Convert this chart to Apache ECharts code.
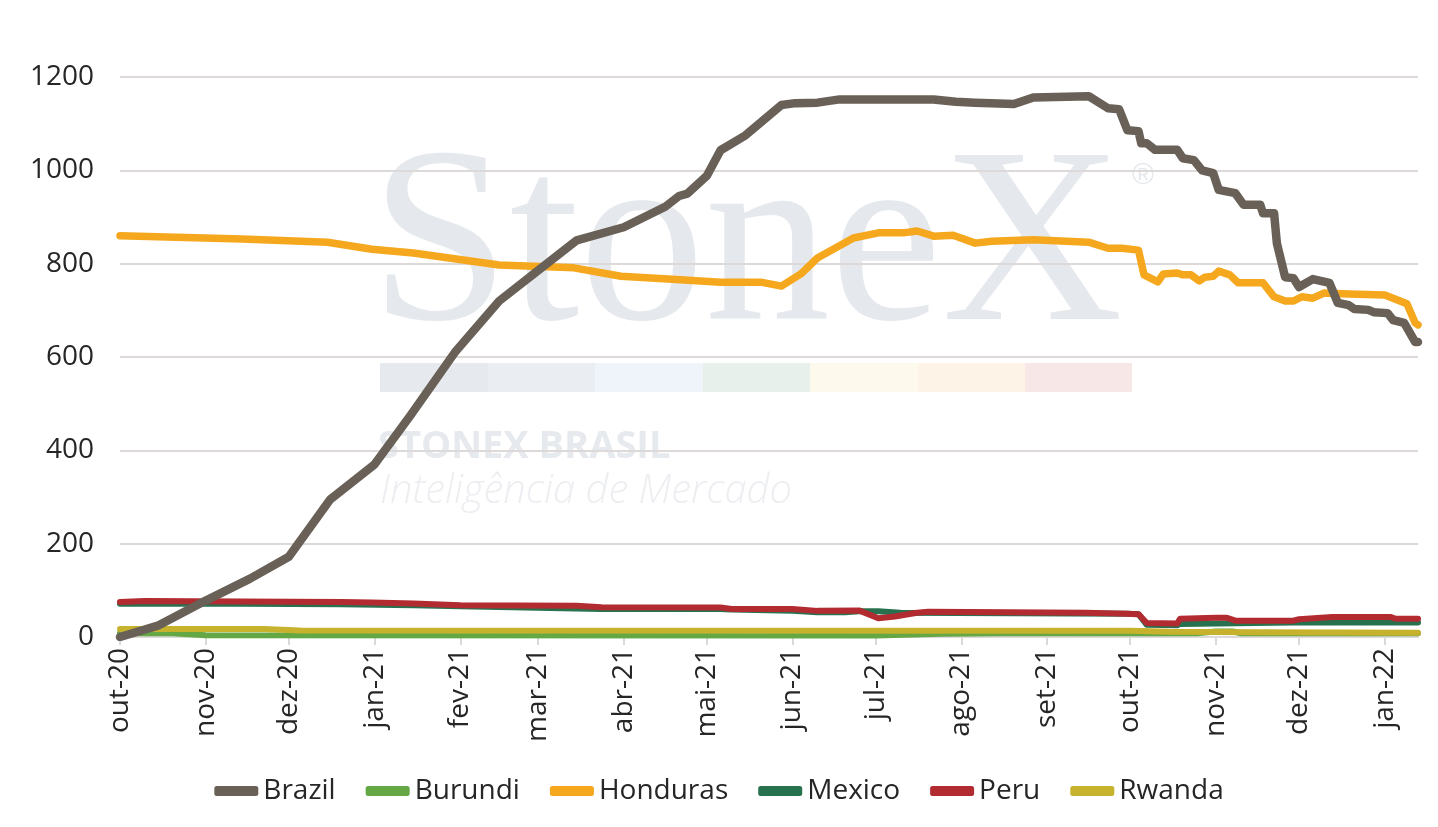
<!DOCTYPE html>
<html>
<head>
<meta charset="utf-8">
<script src="https://cdn.jsdelivr.net/npm/echarts@6/dist/echarts.min.js"></script>
<style>
  html, body { margin: 0; padding: 0; background: #fff; }
  #chart { width: 1438px; height: 827px; }
</style>
</head>
<body>
<div id="chart"></div>
<script>
// rótulos dos meses (eixo x)
var monthNames = ['jan', 'fev', 'mar', 'abr', 'mai', 'jun', 'jul', 'ago', 'set', 'out', 'nov', 'dez'];
var tickMonths = ['2020-10-01', '2020-11-01', '2020-12-01', '2021-01-01', '2021-02-01', '2021-03-01', '2021-04-01', '2021-05-01',
  '2021-06-01', '2021-07-01', '2021-08-01', '2021-09-01', '2021-10-01', '2021-11-01', '2021-12-01', '2022-01-01'];
var yTicks = [0, 200, 400, 600, 800, 1000, 1200];
var startDate = '2020-10-01', endDate = '2022-01-13';

var seriesNames = ['Brazil', 'Burundi', 'Honduras', 'Mexico', 'Peru', 'Rwanda'];

var brazil = [
  ['2020-10-01', 0], ['2020-10-15', 25], ['2020-11-01', 78], ['2020-11-17', 125], ['2020-12-01', 172],
  ['2020-12-16', 295], ['2021-01-01', 370], ['2021-01-14', 475], ['2021-01-30', 610], ['2021-02-15', 720],
  ['2021-03-01', 785], ['2021-03-15', 850], ['2021-04-01', 878], ['2021-04-16', 922], ['2021-04-21', 945],
  ['2021-04-24', 950], ['2021-05-01', 988], ['2021-05-06', 1043], ['2021-05-15', 1075], ['2021-05-28', 1140],
  ['2021-06-02', 1144], ['2021-06-10', 1145], ['2021-06-18', 1152], ['2021-07-22', 1152], ['2021-07-30', 1147],
  ['2021-08-06', 1145], ['2021-08-20', 1142], ['2021-08-27', 1156], ['2021-09-16', 1159], ['2021-09-23', 1133],
  ['2021-09-27', 1131], ['2021-09-30', 1086], ['2021-10-04', 1084], ['2021-10-05', 1058], ['2021-10-07', 1058],
  ['2021-10-10', 1044], ['2021-10-18', 1044], ['2021-10-20', 1026], ['2021-10-24', 1022], ['2021-10-27', 1000],
  ['2021-10-31', 994], ['2021-11-02', 958], ['2021-11-08', 951], ['2021-11-11', 926], ['2021-11-17', 926],
  ['2021-11-18', 908], ['2021-11-22', 908], ['2021-11-23', 844], ['2021-11-26', 771], ['2021-11-29', 769],
  ['2021-12-01', 750], ['2021-12-06', 767], ['2021-12-12', 759], ['2021-12-15', 716], ['2021-12-19', 711],
  ['2021-12-21', 703], ['2021-12-26', 701], ['2021-12-28', 696], ['2022-01-02', 694], ['2022-01-04', 679],
  ['2022-01-08', 673], ['2022-01-12', 632], ['2022-01-13', 632]
];

var burundi = [
  ['2020-10-01', 8], ['2020-10-20', 8], ['2020-11-01', 4], ['2021-07-01', 3], ['2021-07-25', 7],
  ['2021-08-15', 8], ['2021-10-25', 8], ['2021-11-01', 12], ['2021-11-07', 12], ['2021-11-10', 8],
  ['2022-01-13', 8]
];

var honduras = [
  ['2020-10-01', 860], ['2020-11-14', 853], ['2020-12-15', 846], ['2020-12-31', 831], ['2021-01-15', 823],
  ['2021-02-15', 797], ['2021-03-14', 791], ['2021-03-31', 773], ['2021-04-17', 767], ['2021-05-06', 760],
  ['2021-05-21', 760], ['2021-05-28', 752], ['2021-06-04', 778], ['2021-06-10', 812], ['2021-06-23', 855],
  ['2021-07-02', 866], ['2021-07-11', 866], ['2021-07-16', 870], ['2021-07-22', 859], ['2021-07-29', 861],
  ['2021-08-06', 844], ['2021-08-12', 848], ['2021-08-27', 851], ['2021-09-16', 846], ['2021-09-23', 833],
  ['2021-09-28', 833], ['2021-10-04', 829], ['2021-10-06', 776], ['2021-10-11', 761], ['2021-10-13', 778],
  ['2021-10-18', 780], ['2021-10-20', 776], ['2021-10-23', 776], ['2021-10-26', 763], ['2021-10-28', 771],
  ['2021-10-31', 773], ['2021-11-02', 784], ['2021-11-06', 776], ['2021-11-09', 759], ['2021-11-18', 759],
  ['2021-11-22', 729], ['2021-11-26', 720], ['2021-11-29', 720], ['2021-12-02', 729], ['2021-12-06', 726],
  ['2021-12-10', 737], ['2021-12-19', 735], ['2022-01-01', 733], ['2022-01-04', 726], ['2022-01-09', 714],
  ['2022-01-12', 673], ['2022-01-13', 669]
];

var mexico = [
  ['2020-10-01', 71], ['2020-11-14', 71], ['2020-12-20', 70], ['2021-01-15', 68], ['2021-02-01', 66],
  ['2021-03-24', 60], ['2021-05-06', 60], ['2021-05-10', 59], ['2021-06-01', 56], ['2021-06-10', 53],
  ['2021-06-20', 53], ['2021-06-25', 55], ['2021-07-02', 55], ['2021-07-10', 52], ['2021-09-30', 50],
  ['2021-10-04', 49], ['2021-10-07', 26], ['2021-10-18', 25], ['2021-10-19', 28], ['2021-11-01', 29],
  ['2021-11-29', 31], ['2022-01-13', 31]
];

var peru = [
  ['2020-10-01', 75], ['2020-10-10', 77], ['2020-11-14', 76], ['2020-12-20', 75], ['2020-12-31', 74],
  ['2021-01-15', 72], ['2021-02-01', 68], ['2021-03-15', 67], ['2021-03-24', 64], ['2021-05-06', 63],
  ['2021-05-10', 60], ['2021-06-01', 60], ['2021-06-10', 56], ['2021-06-25', 57], ['2021-07-02', 40],
  ['2021-07-08', 44], ['2021-07-16', 52], ['2021-07-20', 54], ['2021-09-15', 52], ['2021-09-30', 50],
  ['2021-10-04', 49], ['2021-10-07', 30], ['2021-10-18', 29], ['2021-10-19', 39], ['2021-11-01', 41],
  ['2021-11-05', 41], ['2021-11-08', 35], ['2021-11-29', 35], ['2021-12-01', 38], ['2021-12-13', 43],
  ['2022-01-03', 43], ['2022-01-05', 39], ['2022-01-13', 39]
];

var rwanda = [
  ['2020-10-01', 17], ['2020-11-22', 17], ['2020-12-05', 14], ['2021-10-01', 13.5], ['2021-10-15', 11],
  ['2021-11-15', 10], ['2022-01-13', 9]
];

var colors = ['#696157', '#63a844', '#f5a81d', '#28714f', '#b22b30', '#c6b22c'];
var lineWidths = [8.5, 6, 7.5, 6, 6, 6];
var dataSets = [brazil, burundi, honduras, mexico, peru, rwanda];
var zOrder = [6, 2, 3, 4, 5, 4];

function toTime(s) {
  var p = s.split('-');
  return new Date(+p[0], +p[1] - 1, +p[2]).getTime();
}
var tickValues = tickMonths.map(toTime);

var fontFamily = '"Open Sans", Lato, sans-serif';
var textColor = '#262626';
var gridColor = '#ddd9d9';

var myChart = echarts.init(document.getElementById('chart'));

var option = {
  backgroundColor: '#fff',
  animation: false,
  color: colors,
  // marca d'água StoneX
  graphic: [
    { type: 'text', z: -10, left: 370, top: 128,
      style: { text: 'StoneX', font: '251px "Liberation Serif", serif', fill: '#e5e8ed' } },
    { type: 'text', z: -10, left: 1132, top: 161,
      style: { text: '®', font: '30px "Liberation Sans", sans-serif', fill: '#e5e8ed' } },
    { type: 'rect', z: -10, shape: { x: 380, y: 363, width: 108, height: 29 }, style: { fill: '#e6e9ee' } },
    { type: 'rect', z: -10, shape: { x: 488, y: 363, width: 107, height: 29 }, style: { fill: '#eaedf1' } },
    { type: 'rect', z: -10, shape: { x: 595, y: 363, width: 108, height: 29 }, style: { fill: '#eef4f9' } },
    { type: 'rect', z: -10, shape: { x: 703, y: 363, width: 107, height: 29 }, style: { fill: '#e7f0ea' } },
    { type: 'rect', z: -10, shape: { x: 810, y: 363, width: 108, height: 29 }, style: { fill: '#fdf9ec' } },
    { type: 'rect', z: -10, shape: { x: 918, y: 363, width: 107, height: 29 }, style: { fill: '#fdf4e7' } },
    { type: 'rect', z: -10, shape: { x: 1025, y: 363, width: 107, height: 29 }, style: { fill: '#f7e7e7' } },
    { type: 'text', z: -10, left: 378, top: 428,
      style: { text: 'STONEX BRASIL', font: 'bold 38px "Open Sans", sans-serif', fill: '#e6e9ed' } },
    { type: 'text', z: -10, left: 380, top: 472,
      style: { text: 'Inteligência de Mercado', font: 'italic 300 40px "Open Sans", sans-serif', fill: '#eceef1' } }
  ],
  grid: { left: 120, right: 20, top: 77, bottom: 190 },
  legend: {
    data: seriesNames,
    bottom: 17,
    left: 'center',
    icon: 'roundRect',
    itemWidth: 44,
    itemHeight: 10,
    itemGap: 30,
    textStyle: { fontFamily: fontFamily, fontSize: 28, color: textColor }
  },
  xAxis: {
    type: 'value',
    min: toTime(startDate),
    max: toTime(endDate),
    axisLine: { show: true, lineStyle: { color: gridColor, width: 2 } },
    axisTick: { show: true, length: 8, lineStyle: { color: gridColor, width: 2 }, customValues: tickValues },
    splitLine: { show: false },
    axisLabel: {
      customValues: tickValues,
      rotate: 90,
      margin: 11,
      fontFamily: fontFamily,
      fontSize: 28,
      color: textColor,
      formatter: function (v) {
        var d = new Date(v);
        return monthNames[d.getMonth()] + '-' + String(d.getFullYear()).slice(2);
      }
    }
  },
  yAxis: {
    type: 'value',
    min: yTicks[0],
    max: yTicks[yTicks.length - 1],
    interval: yTicks[1] - yTicks[0],
    axisLine: { show: false },
    axisTick: { show: false },
    splitLine: { lineStyle: { color: gridColor, width: 2 } },
    axisLabel: {
      margin: 26, fontFamily: fontFamily, fontSize: 28, color: textColor,
      formatter: function (v) { return String(v); }
    }
  },
  series: seriesNames.map(function (name, i) {
    return {
      name: name,
      type: 'line',
      data: dataSets[i].map(function (p) { return [toTime(p[0]), p[1]]; }),
      z: zOrder[i],
      showSymbol: false,
      symbol: 'none',
      lineStyle: { width: lineWidths[i], color: colors[i], cap: 'round', join: 'round' },
      itemStyle: { color: colors[i] }
    };
  })
};

myChart.setOption(option);
</script>
</body>
</html>
